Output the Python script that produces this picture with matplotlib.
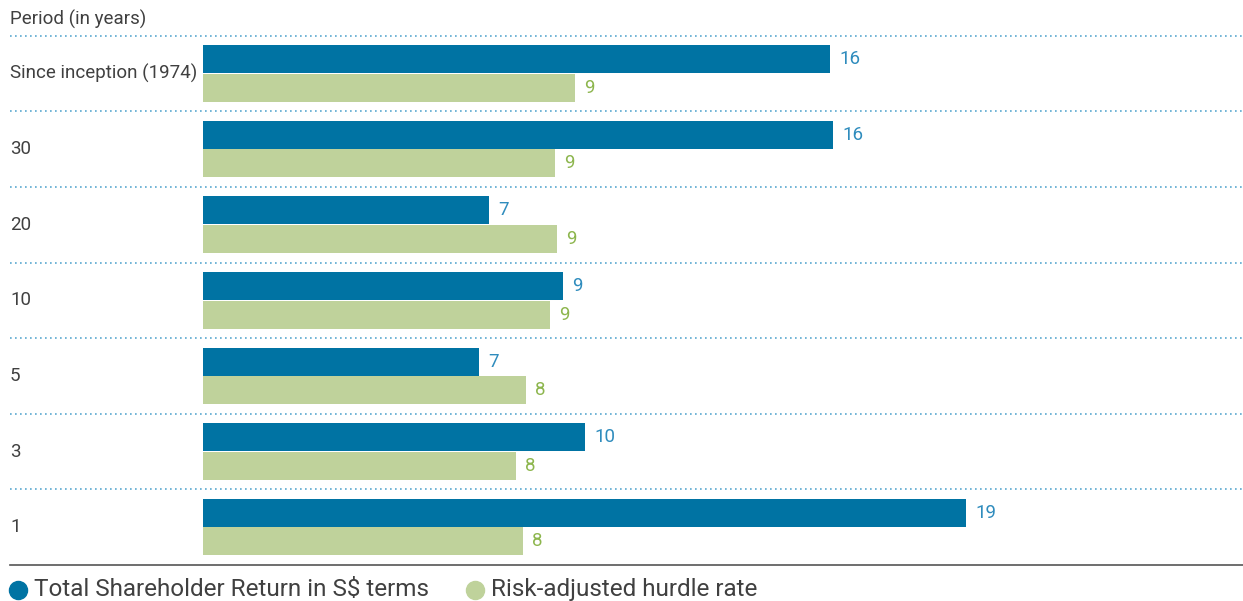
import matplotlib.pyplot as plt
from matplotlib.transforms import blended_transform_factory

plt.rcParams['font.family'] = ['Roboto', 'DejaVu Sans']

# Data
periods = ["Since inception (1974)", "30", "20", "10", "5", "3", "1"]
tsr = [15.68, 15.75, 7.15, 9.0, 6.9, 9.56, 19.08]       # Total Shareholder Return in S$ terms
hurdle = [9.3, 8.8, 8.85, 8.68, 8.08, 7.83, 8.0]       # Risk-adjusted hurdle rate
series_names = ["Total Shareholder Return in S$ terms", "Risk-adjusted hurdle rate"]

blue = "#0073A3"
green = "#BFD29B"
blue_txt = "#2F8CBD"
green_txt = "#8DB64E"
grey_txt = "#404040"

W, H = 1243, 601
fig = plt.figure(figsize=(W / 100, H / 100), dpi=100)
ax = fig.add_axes([0, 0, 1, 1])

# x: 40 px per unit, zero at pixel 203
px = 40.0
x0 = 203
ax.set_xlim(-x0 / px, (W - x0) / px)
# y: one unit per row, row 0 centred at pixel 73.5
step = 75.6
c0 = 73.5
ax.set_ylim((H - c0) / step, -c0 / step)
ax.axis('off')

bh = 0.37
off = 0.19
rows = list(range(len(periods)))
ax.barh([r - off for r in rows], tsr, height=bh, color=blue, linewidth=0)
ax.barh([r + off for r in rows], hurdle, height=bh, color=green, linewidth=0)

for r, v in zip(rows, tsr):
    ax.text(v + 9 / px, r - off, f"{round(v)}", color=blue_txt, fontsize=13.5,
            va='center', ha='left')
for r, v in zip(rows, hurdle):
    ax.text(v + 9 / px, r + off, f"{round(v)}", color=green_txt, fontsize=13.5,
            va='center', ha='left')

# category labels and separators
tr = blended_transform_factory(fig.transFigure, ax.transData)
xl = 10 / W
for r, lab in zip(rows, periods):
    fig.text(xl, r, lab, transform=tr, fontsize=13.5, color=grey_txt,
             va='center', ha='left')
    ax.plot([xl, 1], [r - 0.5, r - 0.5], transform=tr, color="#5AA8CF",
            lw=1.2, ls=(0, (1, 2)), clip_on=False)
ax.plot([xl, 1], [rows[-1] + 0.5] * 2, transform=tr, color="#555555", lw=1.2,
        clip_on=False)

fig.text(xl, -0.72, "Period (in years)", transform=tr, fontsize=13.5,
         color=grey_txt, va='center', ha='left')

# legend
ly = 6.83
for xm, name, col in zip([18, 475], series_names, [blue, green]):
    ax.plot([xm / W], [ly], transform=tr, marker='o', ms=13, color=col,
            clip_on=False, ls='none')
    fig.text((xm + 16) / W, ly, name, transform=tr, fontsize=17.5,
             color=grey_txt, va='center', ha='left')

fig.savefig("out.png", dpi=100)
